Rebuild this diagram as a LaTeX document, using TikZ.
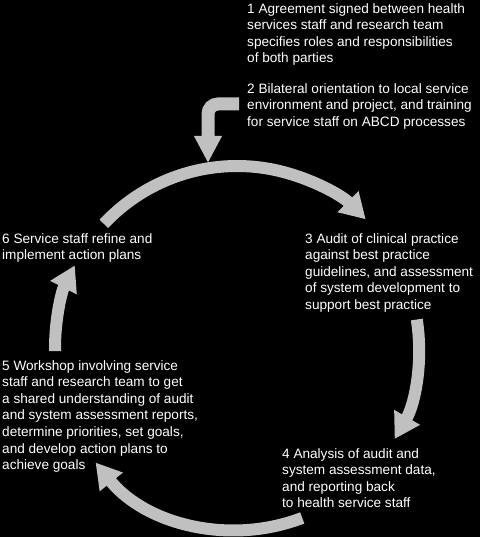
\documentclass[tikz,border=0pt]{standalone}
\usepackage{fontspec}
\setmainfont{Liberation Sans}
\usetikzlibrary{arrows.meta}
\definecolor{arrowgrey}{RGB}{192,192,192}
\begin{document}
\begin{tikzpicture}[x=1pt,y=-1pt,
  txt/.style={anchor=north west, inner sep=0pt, align=left, text=white,
    font=\fontsize{13.6}{16.6}\selectfont},
  cyclearrow/.style={draw=arrowgrey, line width=12pt,
    -{Triangle[width=28pt,length=25pt]}},
  bentarrow/.style={draw=arrowgrey, line width=13pt, rounded corners=10pt,
    -{Triangle[width=26pt,length=27pt]}}]
\fill[black] (0,0) rectangle (480,537);
\useasboundingbox (0,0) rectangle (480,537);

\node[txt] (s1) at (247,3) {1 Agreement signed between health\\services staff and research team\\specifies roles and responsibilities\\of both parties};
\node[txt] (s2) at (247,83) {2 Bilateral orientation to local service\\environment and project, and training\\for service staff on ABCD processes};
\node[txt] (s6) at (2,233) {6 Service staff refine and\\implement action plans};
\node[txt] (s3) at (305,233) {3 Audit of clinical practice\\against best practice\\guidelines, and assessment\\of system development to\\support best practice};
\node[txt] (s5) at (2,360) {5 Workshop involving service\\staff and research team to get\\a shared understanding of audit\\and system assessment reports,\\determine priorities, set goals,\\and develop action plans to\\achieve goals};
\node[txt] (s4) at (282,448) {4 Analysis of audit and\\system assessment data,\\and reporting back\\to health service staff};

\coordinate (bentstart) at (239,104);
\coordinate (benttip) at (208,163);
\draw[bentarrow] (bentstart) -| (benttip);

\begin{scope}[shift={(237,348)}]
  \draw[cyclearrow] (137:182pt) arc[start angle=137, end angle=45, radius=182pt];
  \draw[cyclearrow] (9:182pt) arc[start angle=9, end angle=-30, radius=182pt];
  \draw[cyclearrow] (-69:182pt) arc[start angle=-69, end angle=-141, radius=182pt];
  \draw[cyclearrow] (181:182pt) arc[start angle=181, end angle=153, radius=182pt];
\end{scope}
\end{tikzpicture}
\end{document}
